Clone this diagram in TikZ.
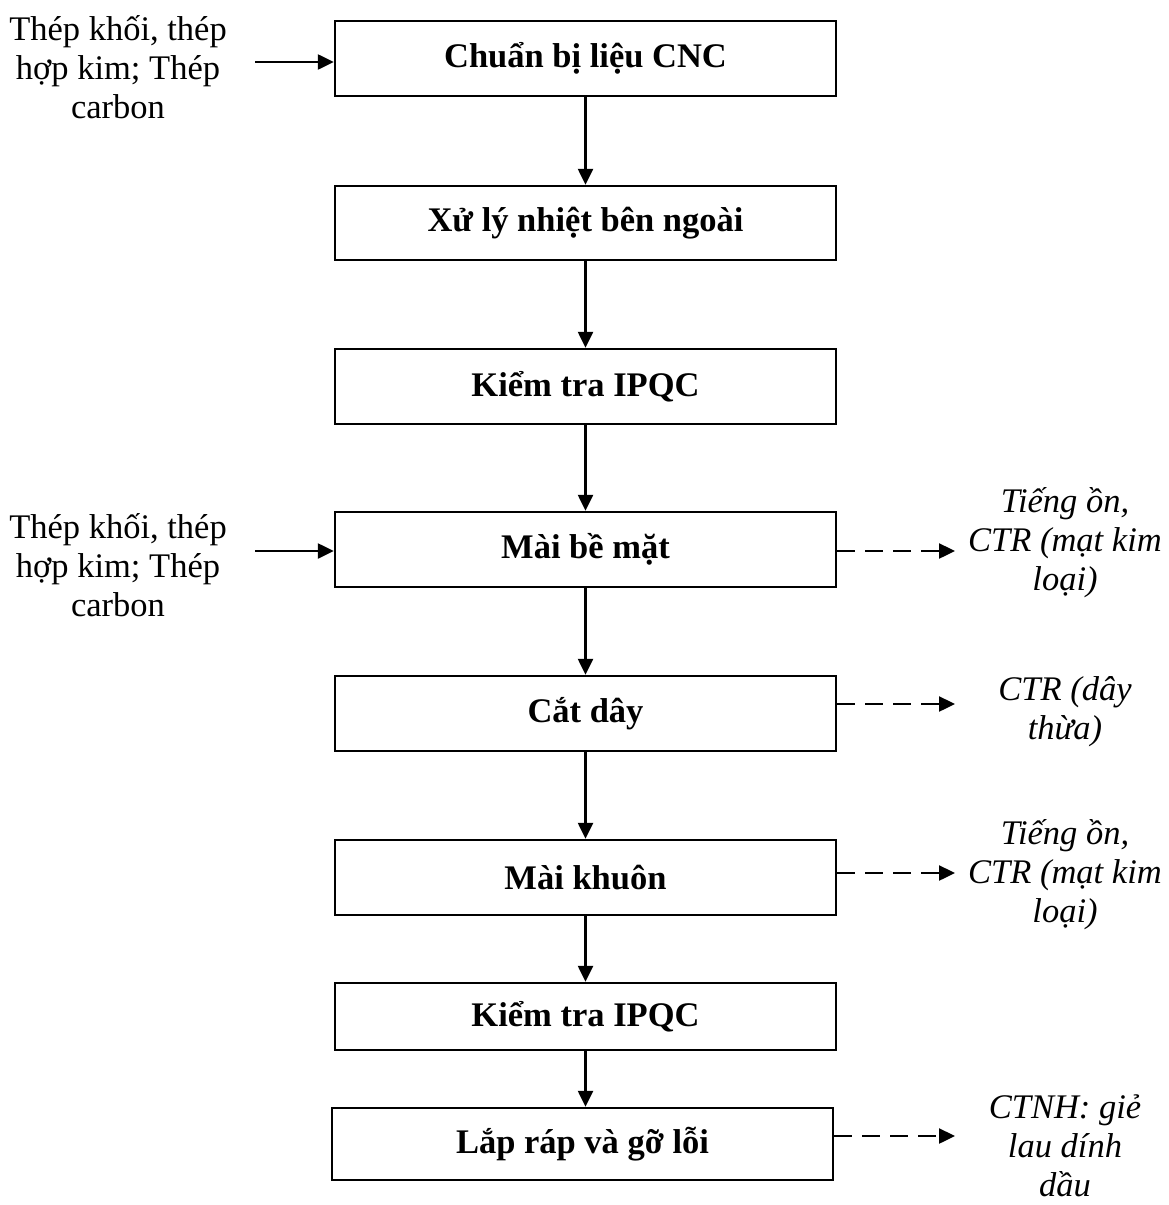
\documentclass[tikz,border=0pt]{standalone}
\usepackage{fontspec}
\setmainfont{Liberation Serif}
\usetikzlibrary{arrows.meta}
\begin{document}
\begin{tikzpicture}[x=1pt,y=-1pt,
  stepbox/.style={draw, line width=2.4pt, minimum width=501pt, minimum height=75pt,
    inner sep=0pt, font=\fontsize{34.5}{39}\selectfont\bfseries},
  inlabel/.style={align=center, inner sep=0pt, font=\fontsize{34.5}{39}\selectfont},
  outlabel/.style={align=center, inner sep=0pt, font=\fontsize{34.5}{39}\selectfont\itshape},
  flow/.style={-{Triangle[length=16pt,width=15pt]}, line width=2.4pt},
  waste/.style={flow, dash pattern=on 18pt off 10pt}]
\useasboundingbox (0,0) rectangle (1168,1205);

% process steps
\node[stepbox] (b1) at (585.5,58.5) {Chuẩn bị liệu CNC};
\node[stepbox, minimum height=74pt] (b2) at (585.5,223) {Xử lý nhiệt bên ngoài};
\node[stepbox] (b3) at (585.5,386.5) {Kiểm tra IPQC};
\node[stepbox] (b4) at (585.5,549.5) {Mài bề mặt};
\node[stepbox] (b5) at (585.5,713.5) {Cắt dây};
\node[stepbox] (b6) at (585.5,877.5) {Mài khuôn};
\node[stepbox, minimum height=67pt] (b7) at (585.5,1016.5) {Kiểm tra IPQC};
\node[stepbox, minimum height=72pt] (b8) at (582.5,1144) {Lắp ráp và gỡ lỗi};

% main flow
\draw[flow] (b1) -- (b2);
\draw[flow] (b2) -- (b3);
\draw[flow] (b3) -- (b4);
\draw[flow] (b4) -- (b5);
\draw[flow] (b5) -- (b6);
\draw[flow] (b6) -- (b7);
\draw[flow] (b7.south) -- (b7.south |- b8.north);

% raw material inputs
\node[inlabel] (in1) at (118,67) {Thép khối, thép\\hợp kim; Thép\\carbon};
\node[inlabel] (in2) at (118,565) {Thép khối, thép\\hợp kim; Thép\\carbon};
\coordinate (s1) at (255,62);
\coordinate (s2) at (255,551);
\draw[flow] (s1) -- (s1 -| b1.west);
\draw[flow] (s2) -- (s2 -| b4.west);

% waste outputs
\node[outlabel] (o4) at (1065,543) {Tiếng ồn,\\CTR (mạt kim\\loại)};
\node[outlabel] (o5) at (1065,712) {CTR (dây\\thừa)};
\node[outlabel] (o6) at (1065,875) {Tiếng ồn,\\CTR (mạt kim\\loại)};
\node[outlabel] (o8) at (1065,1146) {CTNH: giẻ\\lau dính\\dầu};
\coordinate (e4) at (955,551);
\coordinate (e5) at (955,704);
\coordinate (e6) at (955,873);
\coordinate (e8) at (955,1136);
\draw[waste] (e4 -| b4.east) -- (e4);
\draw[waste] (e5 -| b5.east) -- (e5);
\draw[waste] (e6 -| b6.east) -- (e6);
\draw[waste] (e8 -| b8.east) -- (e8);
\end{tikzpicture}
\end{document}
